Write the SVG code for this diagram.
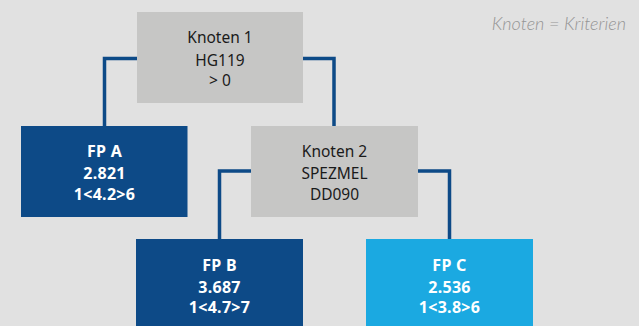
<svg xmlns="http://www.w3.org/2000/svg" width="639" height="326" viewBox="0 0 639 326">
<style>
.bg{fill:#e1e1e1}
.gray{fill:#c6c6c5}
.dark{fill:#0d4a87}
.light{fill:#1ba9e1}
.t{font-family:"Noto Sans","Liberation Sans",sans-serif;font-size:15.5px;fill:#1a1a1a;text-anchor:middle}
.w{font-family:"Noto Sans","Liberation Sans",sans-serif;font-size:16px;font-weight:bold;fill:#ffffff;text-anchor:middle;letter-spacing:0.3px}
.leg{font-family:"Lato","Noto Sans",sans-serif;font-size:18px;font-style:italic;font-weight:300;fill:#959595;text-anchor:end}
.c{fill:none;stroke:#0d4a87;stroke-width:3.5}
</style>
<rect class="bg" width="639" height="326"/>
<g id="connectors">
<polyline class="c" points="137,58.5 104.5,58.5 104.5,127"/>
<polyline class="c" points="303,58.5 334,58.5 334,127"/>
<polyline class="c" points="251,171 219.5,171 219.5,240"/>
<polyline class="c" points="418,171 449.5,171 449.5,240"/>
</g>
<g id="knoten1">
<rect class="gray" x="137" y="12" width="166" height="91"/>
<text class="t" x="220" y="43">Knoten 1</text>
<text class="t" x="220" y="65.5">HG119</text>
<text class="t" x="220" y="86">&gt; 0</text>
</g>
<g id="fpA">
<rect class="dark" x="21" y="126" width="166.5" height="91"/>
<text class="w" x="104.5" y="156.5">FP A</text>
<text class="w" x="104.5" y="179">2.821</text>
<text class="w" x="104.5" y="200">1&lt;4.2&gt;6</text>
</g>
<g id="knoten2">
<rect class="gray" x="251" y="126" width="167" height="91"/>
<text class="t" x="334.5" y="156.5">Knoten 2</text>
<text class="t" x="334.5" y="179">SPEZMEL</text>
<text class="t" x="334.5" y="200">DD090</text>
</g>
<g id="fpB">
<rect class="dark" x="136" y="239" width="167" height="90"/>
<text class="w" x="219.5" y="271">FP B</text>
<text class="w" x="219.5" y="292.5">3.687</text>
<text class="w" x="219.5" y="313">1&lt;4.7&gt;7</text>
</g>
<g id="fpC">
<rect class="light" x="366" y="239" width="167" height="90"/>
<text class="w" x="449.5" y="271">FP C</text>
<text class="w" x="449.5" y="292.5">2.536</text>
<text class="w" x="449.5" y="313">1&lt;3.8&gt;6</text>
</g>
<g id="legend">
<text class="leg" x="626" y="30">Knoten = Kriterien</text>
</g>
</svg>
